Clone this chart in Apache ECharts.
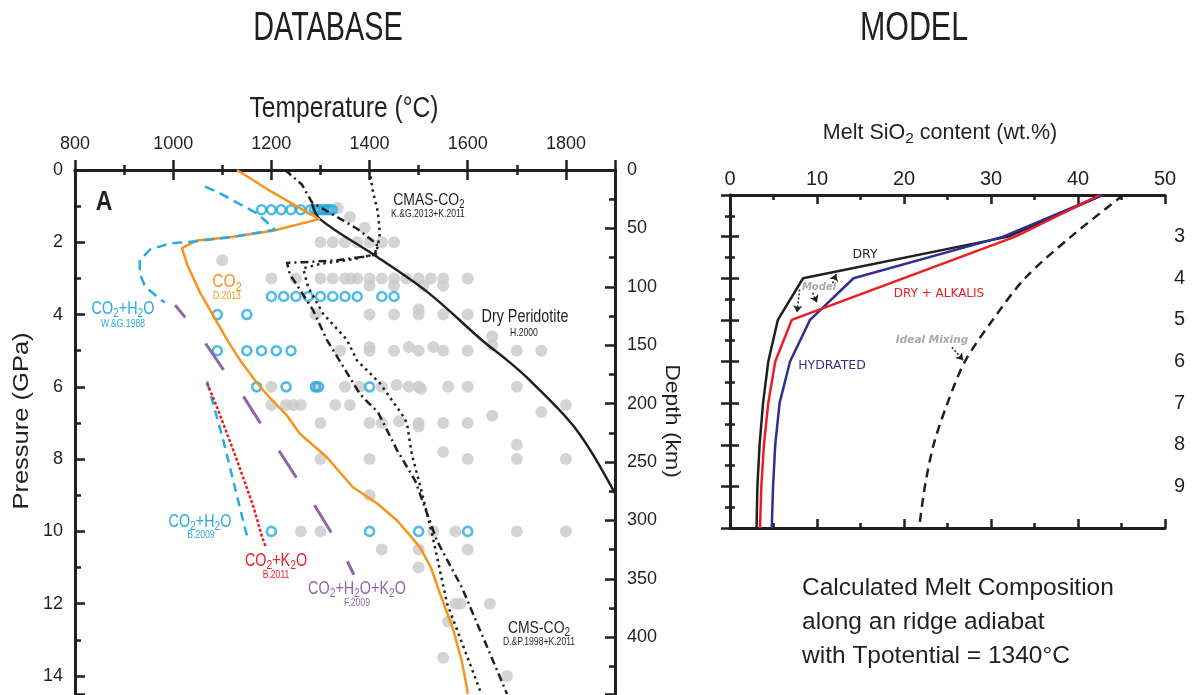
<!DOCTYPE html>
<html><head><meta charset="utf-8">
<script src="https://cdn.jsdelivr.net/npm/echarts@6/dist/echarts.min.js"></script>
<style>html,body{margin:0;padding:0;background:#fff}#c{width:1192px;height:695px}</style>
</head><body><div id="c"></div>
<script>
// ---------------- DATA ----------------
// Left panel: [Temperature °C, Pressure GPa]
const grayPoints = [
  [1335,1.05],[1360,1.3],[1390,1.6],
  [1300,2],[1325,2],[1350,2],[1375,2],[1400,2],[1425,2],[1450,2],
  [1100,2.5],
  [1200,3],[1250,3],[1300,3],[1325,3],[1350,3],[1362,3],[1375,3],[1400,3],[1425,3],[1450,3],[1475,3],[1500,3],[1525,3],[1550,3],[1600,3],
  [1400,3.2],[1450,3.2],[1510,3.2],[1550,3.2],
  [1290,4],[1400,4],[1450,4],[1500,3.85],[1500,4],[1550,4],[1600,4],
  [1650,4.6],
  [1340,5],[1400,4.9],[1400,5],[1450,5],[1480,4.9],[1500,5],[1530,4.9],[1550,5],[1600,5],[1650,4.85],[1700,5],[1750,5],
  [1200,6],[1290,6],[1350,6],[1380,6],[1425,6],[1455,5.95],[1480,6],[1500,6],[1505,6.05],[1560,6],[1600,6],[1700,6],
  [1200,6.5],[1230,6.5],[1245,6.5],[1260,6.5],[1330,6.5],[1360,6.5],
  [1650,6.8],[1750,6.7],[1800,6.5],
  [1300,7],[1400,7],[1425,7],[1460,6.95],[1500,7],[1500,7.1],[1550,7],[1600,7],
  [1550,7.8],[1700,7.6],
  [1300,8],[1400,8],[1600,8],[1700,8],[1800,8],
  [1400,9],
  [1260,10],[1300,10],[1530,10],[1575,10],[1700,10],[1800,10],
  [1425,10.5],[1500,10.5],[1600,10.5],
  [1500,11],
  [1575,12],[1585,12],[1645,12],
  [1560,12.5],[1550,13.5],[1680,14]
];
const bluePoints = [
  [1180,1.1],[1200,1.1],[1220,1.1],[1240,1.1],[1260,1.1],[1280,1.1],
  [1288,1.1],[1294,1.1],[1300,1.1],[1306,1.1],[1312,1.1],[1318,1.1],[1324,1.1],
  [1200,3.5],[1225,3.5],[1250,3.5],[1275,3.5],[1300,3.5],[1325,3.5],[1350,3.5],[1375,3.5],[1425,3.5],[1450,3.5],
  [1090,4],[1150,4],
  [1090,5],[1150,5],[1180,5],[1210,5],[1240,5],
  [1170,6],[1230,6],[1290,6],[1296,6],[1400,6],
  [1200,10],[1400,10],[1500,10],[1600,10]
];
const dryPeridotite = [[1283,0.94],[1299,1.36],[1415,2.4],[1520,3.4],[1629,4.71],[1680,5.26],[1725,5.8],[1822,7.2],[1900,8.95]];
const cmsCO2 = [[1228,0],[1262,0.4],[1283,0.9],[1334,1.3],[1374,1.62],[1415,2.05],[1411,2.35],[1387,2.4],[1334,2.5],[1265,2.55],[1232,2.57],[1238,2.9],[1248,3.1],[1285,3.88],[1313,4.7],[1376,6.1],[1387,6.3],[1417,6.7],[1456,7.75],[1493,8.6],[1517,9.5],[1537,10.25],[1588,11.55],[1674,14.3],[1680,14.5]];
const cmasCO2 = [[1400,0],[1407,0.6],[1417,1.16],[1421,1.77],[1417,2.08],[1413,2.33],[1366,2.47],[1299,2.6],[1265,2.72],[1268,2.9],[1275,3.24],[1305,3.97],[1354,4.7],[1374,5.26],[1421,5.9],[1468,6.8],[1476,7.0],[1486,7.85],[1507,8.95],[1527,10.05],[1558,12.0],[1625,14.4],[1628,14.5]];
const co2D2013 = [[1130,0],[1200,0.6],[1297,1.36],[1203,1.68],[1122,1.85],[1048,1.95],[1018,2.16],[1028,2.6],[1055,3.4],[1089,4.2],[1110,4.7],[1136,5.26],[1171,5.9],[1200,6.35],[1232,6.8],[1258,7.3],[1313,7.95],[1366,8.78],[1415,9.22],[1456,9.7],[1488,10.2],[1503,10.45],[1525,11.0],[1543,11.7],[1570,12.7],[1588,13.6],[1598,14.3],[1600,14.5]];
const co2h2oWG1988 = [[1065,0.46],[1089,0.6],[1146,1.02],[1171,1.2],[1197,1.52],[1207,1.65],[1122,1.85],[1048,1.97],[994,2.03],[953,2.2],[932,2.5],[932,2.87],[943,3.23],[967,3.5],[983,3.67]];
const co2h2oB2009 = [[1069,5.85],[1102,7.48],[1146,9.9],[1152,10.2]];
const co2k2oB2011 = [[1069,5.9],[1089,6.55],[1130,8.03],[1163,9.3],[1181,10.15],[1189,10.45]];
const co2h2ok2oF2009 = [[1004,3.74],[1024,4.07],[1065,4.78],[1101,5.5],[1140,6.2],[1175,6.95],[1211,7.67],[1248,8.45],[1283,9.17],[1317,9.92],[1354,10.8],[1368,11.2]];
// Right panel: [Melt SiO2 wt.%, Pressure]
const meltDry = [[42.8,2],[32,3],[8.4,4],[5.5,5],[4.4,6],[3.8,7],[3.4,8],[3.15,9],[3.05,10]];
const meltAlkalis = [[42.5,2],[32.8,3],[7.1,5],[5.2,6],[4.4,7],[3.9,8],[3.6,9],[3.45,10]];
const meltHydrated = [[42.8,2],[31.4,3],[14.2,4],[9.2,5],[6.9,6],[5.7,7],[5.2,8],[4.95,9],[4.8,10]];
const meltIdealMixing = [[45.2,2],[39.2,3],[33.9,4],[30.2,5],[27,6],[25,7],[23.4,8],[22.4,9],[21.8,9.9]];
const modelArrows = [ [[8.0,4.27],[7.7,4.82]], [[9.5,4.35],[10.0,4.58]], [[11.8,4.12],[12.2,3.9]], [[25.5,5.66],[26.8,5.97]] ];
// Axis settings
const tempRange = [800, 1900];
const pressRange = [0, 14.5];
const depthRange = [0, 448.5];
const sio2Range = [0, 50];
const modelPressRange = [2, 10];

// ---------------- STYLE ----------------
const INK = '#231f20';
const SANS = "'Liberation Sans',Arial,sans-serif";
const DJ = "'DejaVu Sans',sans-serif";
const CYAN = '#27aae1', ORANGE = '#f7941d', RED = '#ed1c24', PURPLE = '#8f64aa', NAVY = '#2e3192';
const NARROWX = 0.82; // horizontal squeeze of the left-panel lettering

const lineAx = {show:true, lineStyle:{color:INK, width:3}};
const noLine = {show:false};
function tick(len){ return {show:true, inside:true, length:len, lineStyle:{color:INK, width:2.5}}; }
const leftLabel = {show:true, color:INK, fontSize:18, fontFamily:SANS};

const xAxis = [
  {gridIndex:0, type:'value', position:'top', min:tempRange[0], max:tempRange[1], interval:200,
   axisLine:lineAx, axisTick:tick(10), splitLine:{show:false},
   axisLabel:Object.assign({margin:17, formatter:v=> v===1900?'':String(v)}, leftLabel)},
  {gridIndex:0, type:'value', position:'top', min:tempRange[0], max:tempRange[1], interval:100,
   axisLine:noLine, axisTick:tick(5), splitLine:{show:false}, axisLabel:{show:false}},
  {gridIndex:0, type:'value', position:'bottom', min:tempRange[0], max:tempRange[1], interval:200,
   axisLine:lineAx, axisTick:tick(10), splitLine:{show:false}, axisLabel:{show:false}},
  {gridIndex:0, type:'value', position:'bottom', min:tempRange[0], max:tempRange[1], interval:100,
   axisLine:noLine, axisTick:tick(5), splitLine:{show:false}, axisLabel:{show:false}},
  {gridIndex:1, type:'value', position:'top', min:sio2Range[0], max:sio2Range[1], interval:10,
   axisLine:lineAx, axisTick:tick(9), minorTick:{show:true, splitNumber:2, length:5, lineStyle:{color:INK,width:2.5}},
   splitLine:{show:false}, minorSplitLine:{show:false},
   axisLabel:{show:true, margin:6, color:INK, fontSize:20, fontFamily:SANS}},
  {gridIndex:1, type:'value', position:'bottom', min:sio2Range[0], max:sio2Range[1], interval:10,
   axisLine:lineAx, axisTick:tick(9), minorTick:{show:true, splitNumber:2, length:5, lineStyle:{color:INK,width:2.5}},
   splitLine:{show:false}, axisLabel:{show:false}}
];
const yAxis = [
  {gridIndex:0, type:'value', position:'left', inverse:true, min:pressRange[0], max:pressRange[1], interval:2,
   axisLine:lineAx, axisTick:tick(10), splitLine:{show:false},
   axisLabel:Object.assign({margin:12, formatter:v=> (v%2===0)?String(v):''}, leftLabel)},
  {gridIndex:0, type:'value', position:'left', inverse:true, min:pressRange[0], max:pressRange[1], interval:1,
   axisLine:noLine, axisTick:tick(6), splitLine:{show:false}, axisLabel:{show:false}},
  {gridIndex:0, type:'value', position:'right', inverse:true, min:depthRange[0], max:depthRange[1], interval:50,
   axisLine:lineAx, axisTick:tick(10), splitLine:{show:false},
   axisLabel:Object.assign({margin:12, formatter:v=> (v%50===0)?String(v):''}, leftLabel)},
  {gridIndex:0, type:'value', position:'right', inverse:true, min:depthRange[0], max:depthRange[1], interval:25,
   axisLine:noLine, axisTick:tick(6), splitLine:{show:false}, axisLabel:{show:false}},
  {gridIndex:1, type:'value', position:'left', inverse:true, min:modelPressRange[0], max:modelPressRange[1], interval:1,
   axisLine:lineAx, axisTick:tick(9), minorTick:{show:true, splitNumber:2, length:5, lineStyle:{color:INK,width:2.5}},
   splitLine:{show:false}, axisLabel:{show:false}},
  {gridIndex:1, type:'value', position:'right', inverse:true, min:modelPressRange[0], max:modelPressRange[1], interval:1,
   axisLine:lineAx, axisTick:tick(9), minorTick:{show:true, splitNumber:2, length:5, lineStyle:{color:INK,width:2.5}},
   splitLine:{show:false},
   axisLabel:{show:true, margin:9, color:INK, fontSize:20, fontFamily:SANS, formatter:v=> (v>2 && v<10)?String(v):''}}
];

function lineSeries(name, data, color, width, type, extra){
  return Object.assign({name, type:'line', xAxisIndex:0, yAxisIndex:0, data, showSymbol:false, symbol:'none',
    smooth:false, z:4, silent:true,
    lineStyle:{color, width, type, cap:'butt', join:'round'}}, extra||{});
}
function meltSeries(name, data, color, type, extra){
  return Object.assign({name, type:'line', xAxisIndex:4, yAxisIndex:4, data, showSymbol:false, symbol:'none',
    smooth:false, z:4, silent:true, lineStyle:{color, width:2.5, type}}, extra||{});
}

const series = [
  {name:'experiments', type:'scatter', xAxisIndex:0, yAxisIndex:0, data:grayPoints, symbol:'circle', symbolSize:12,
   itemStyle:{color:'#c9c9c9'}, z:1, silent:true},
  {name:'carbonatite', type:'scatter', xAxisIndex:0, yAxisIndex:0, data:bluePoints, symbol:'circle', symbolSize:9,
   itemStyle:{color:'rgba(255,255,255,0)', borderColor:CYAN, borderWidth:2.6}, z:3, silent:true},
  lineSeries('Dry Peridotite', dryPeridotite, INK, 2.5, 'solid', {smooth:0.35}),
  lineSeries('CMS-CO2', cmsCO2, INK, 2.5, [8,4,2,4]),
  lineSeries('CMAS-CO2', cmasCO2, INK, 2.5, [2.5,4]),
  lineSeries('CO2 D.2013', co2D2013, ORANGE, 2.5, 'solid'),
  lineSeries('CO2+H2O W&G', co2h2oWG1988, CYAN, 2.5, [10,6], {z:5}),
  lineSeries('CO2+H2O B.2009', co2h2oB2009, CYAN, 2.5, [9,6]),
  lineSeries('CO2+K2O B.2011', co2k2oB2011, RED, 2.5, [3,2]),
  lineSeries('CO2+H2O+K2O F.2009', co2h2ok2oF2009, PURPLE, 3, [32,33], {lineStyle:{color:PURPLE, width:3, type:[32,33], dashOffset:16}}),
  meltSeries('DRY', meltDry, INK, 'solid'),
  meltSeries('HYDRATED', meltHydrated, NAVY, 'solid'),
  meltSeries('DRY + ALKALIS', meltAlkalis, RED, 'solid'),
  meltSeries('Ideal Mixing', meltIdealMixing, INK, [9,6], {smooth:0.3,
    markLine:{silent:true, symbol:['none','arrow'], symbolSize:7, animation:false,
      label:{show:false}, lineStyle:{color:INK, width:1.5, type:[2,2]},
      data: modelArrows.map(a=>[{coord:a[0]},{coord:a[1]}])}})
];

// text helper; "_2" marks a subscript 2
function txt(t, x, y, size, family, color, opts){
  opts = opts || {};
  const hasSub = t.indexOf('_2') >= 0;
  const style = {text: hasSub ? t.replace(/_2/g, '{s|2}') : t, fontSize:size, fontFamily:family, fill:color,
      align:'center', verticalAlign:'middle', textAlign:'center', textVerticalAlign:'middle'};
  if (hasSub) {
    style.rich = {s:{fontSize:size*0.72, fontFamily:family, fill:color, padding:[Math.round(size*0.5),0,0,0]}};
  }
  Object.assign(style, opts.style||{});
  return Object.assign({type:'text', x, y, silent:true, z:10, style}, opts.el||{});
}
function nar(t, x, y, size, color, extra, sx){
  return txt(t, x, y, size, SANS, color, {el:{scaleX:sx||NARROWX}, style:(extra||{})});
}

const graphic = [
  nar('DATABASE', 328, 29, 40, INK, null, 0.72),
  nar('MODEL', 914, 29, 40, INK, null, 0.76),
  nar('Temperature (°C)', 344, 109, 30, INK),
  txt('Melt SiO_2 content (wt.%)', 940, 133, 21.5, SANS, INK),
  txt('Pressure (GPa)', 22, 421, 25.5, SANS, INK, {el:{rotation:Math.PI/2, scaleY:0.9}}),
  txt('Depth (km)', 672, 421, 23, SANS, INK, {el:{rotation:-Math.PI/2, scaleY:0.9}}),
  txt('Calculated Melt Composition', 802, 588, 24.5, SANS, INK, {style:{align:'left', textAlign:'left'}}),
  txt('along an ridge adiabat', 802, 622, 24.5, SANS, INK, {style:{align:'left', textAlign:'left'}}),
  txt('with Tpotential = 1340°C', 802, 656, 24.5, SANS, INK, {style:{align:'left', textAlign:'left'}}),
  // left panel annotations
  nar('A', 104, 202, 28, INK, {fontWeight:'bold'}),
  nar('CMAS-CO_2', 429, 200, 17, INK),
  nar('K.&G.2013+K.2011', 428, 214, 10.5, INK),
  nar('Dry Peridotite', 525, 317, 17.5, INK),
  nar('H.2000', 524, 333, 10.5, INK),
  nar('CO_2', 227, 282, 19, ORANGE),
  nar('D.2013', 227, 296, 10.5, ORANGE),
  nar('CO_2+H_2O', 123, 309, 17.5, CYAN),
  nar('W.&G.1988', 123, 324, 10.5, CYAN),
  nar('CO_2+H_2O', 200, 522, 17.5, CYAN),
  nar('B.2009', 201, 535, 10.5, CYAN),
  nar('CO_2+K_2O', 276, 561, 17.5, RED),
  nar('B.2011', 276, 575, 10.5, RED),
  nar('CO_2+H_2O+K_2O', 357, 589, 17.5, PURPLE),
  nar('F.2009', 357, 603, 10.5, PURPLE),
  nar('CMS-CO_2', 539, 628, 17, INK),
  nar('D.&P.1998+K.2011', 539, 642, 10.5, INK),
  // right panel annotations
  txt('DRY', 865, 255, 12.5, DJ, INK),
  txt('DRY + ALKALIS', 939, 294, 12, DJ, RED),
  txt('HYDRATED', 832, 366, 12.5, DJ, NAVY),
  txt('Model', 819, 287, 10, DJ, '#a7a9ac', {style:{fontWeight:'bold', fontStyle:'italic'}}),
  txt('Ideal Mixing', 932, 340, 10.5, DJ, '#a7a9ac', {style:{fontWeight:'bold', fontStyle:'italic'}})
];

const chart = echarts.init(document.getElementById('c'), null, {renderer:'canvas'});
chart.setOption({
  animation:false,
  backgroundColor:'#ffffff',
  grid:[
    {left:75, top:170, width:540, height:524, containLabel:false},
    {left:730, top:195, width:435, height:333, containLabel:false}
  ],
  xAxis, yAxis, series, graphic
});
</script>
</body></html>
